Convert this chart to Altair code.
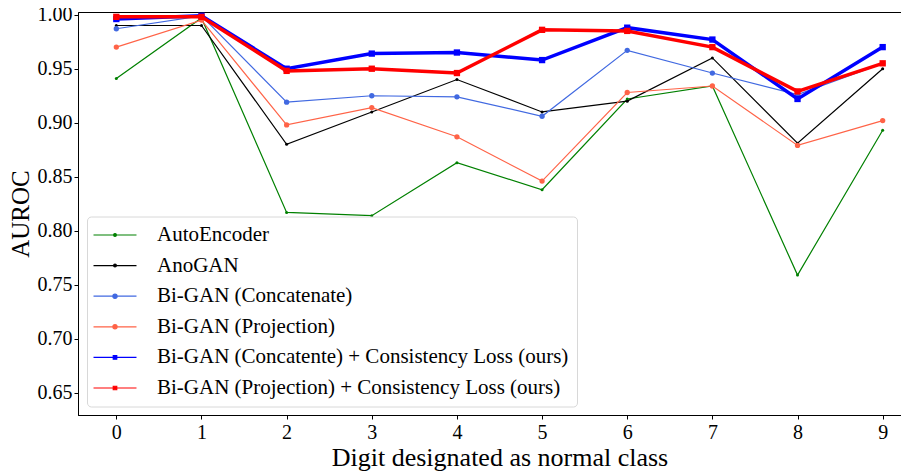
import altair as alt
import pandas as pd

digits = [0, 1, 2, 3, 4, 5, 6, 7, 8, 9]
series_names = [
    "AutoEncoder",
    "AnoGAN",
    "Bi-GAN (Concatenate)",
    "Bi-GAN (Projection)",
    "Bi-GAN (Concatente) + Consistency Loss (ours)",
    "Bi-GAN (Projection) + Consistency Loss (ours)",
]
autoencoder = [0.941, 0.997, 0.817, 0.814, 0.863, 0.838, 0.922, 0.934, 0.759, 0.893]
anogan = [0.990, 0.990, 0.880, 0.910, 0.940, 0.910, 0.920, 0.960, 0.881, 0.950]
bigan_concat = [0.987, 0.999, 0.919, 0.925, 0.924, 0.906, 0.967, 0.946, 0.926, 0.955]
bigan_proj = [0.970, 0.995, 0.898, 0.914, 0.887, 0.846, 0.928, 0.934, 0.879, 0.902]
concat_cl = [0.996, 0.999, 0.950, 0.964, 0.965, 0.958, 0.988, 0.977, 0.922, 0.970]
proj_cl = [0.998, 0.998, 0.948, 0.950, 0.946, 0.986, 0.985, 0.970, 0.929, 0.955]
y_ticks = [0.65, 0.70, 0.75, 0.80, 0.85, 0.90, 0.95, 1.00]

all_values = [autoencoder, anogan, bigan_concat, bigan_proj, concat_cl, proj_cl]
rows = [
    {"digit": d, "auroc": v, "series": s}
    for s, vals in zip(series_names, all_values)
    for d, v in zip(digits, vals)
]
df = pd.DataFrame(rows)

# styles
colors = ["green", "black", "royalblue", "tomato", "blue", "red"]
line_widths = [1.2, 1.2, 1.2, 1.2, 3.5, 3.5]
marker_shapes = ["circle", "circle", "circle", "circle", "square", "square"]
marker_sizes = [9, 9, 28, 28, 40, 40]

FONT = "Liberation Serif"

x_scale = alt.Scale(domain=[-0.45, 9.45], nice=False, zero=False)
y_scale = alt.Scale(domain=[0.6295, 1.0025], nice=False, zero=False)
color_scale = alt.Scale(domain=series_names, range=colors)


def circ(r):
    return f"M{r},0A{r},{r},0,1,1,{-r},0A{r},{r},0,1,1,{r},0Z"


def sq(s):
    return f"M{-s},{-s}L{s},{-s}L{s},{s}L{-s},{s}Z"


seg = "M-3.07,0L3.07,0"
legend_paths = [seg + circ(0.2), seg + circ(0.2), seg + circ(0.3), seg + circ(0.3),
                seg + sq(0.25), seg + sq(0.25)]

legend = alt.Legend(
    title=None,
    orient="none",
    legendX=9,
    legendY=204.5,
    labelFont=FONT,
    labelFontSize=21,
    labelColor="black",
    labelLimit=800,
    symbolSize=196,
    symbolOffset=9.5,
    labelOffset=31.5,
    padding=8,
    rowPadding=8.6,
    fillColor="rgba(255,255,255,0.85)",
    strokeColor="#d8d8d8",
    cornerRadius=4,
)

base = alt.Chart(df)
x_enc = alt.X(
    "digit:Q",
    scale=x_scale,
    axis=alt.Axis(values=digits, format="d", title="Digit designated as normal class",
                  titleFontSize=26, titlePadding=2, labelPadding=3),
)
y_enc = alt.Y(
    "auroc:Q",
    scale=y_scale,
    axis=alt.Axis(values=y_ticks, format=".2f", title="AUROC",
                  titleFontSize=25, titlePadding=4, labelPadding=2),
)

# legend-only layer (no data drawn)
legend_layer = base.transform_filter("false").mark_point(filled=False, size=196, opacity=1).encode(
    color=alt.Color("series:N", scale=color_scale, legend=legend),
    shape=alt.Shape("series:N", scale=alt.Scale(domain=series_names, range=legend_paths), legend=legend),
    strokeWidth=alt.StrokeWidth("series:N", scale=alt.Scale(domain=series_names, range=line_widths), legend=legend),
)

layers = [legend_layer]
for i, name in enumerate(series_names):
    sub = base.transform_filter(alt.datum.series == name)
    col = alt.Color("series:N", scale=color_scale, legend=None)
    layers.append(
        sub.mark_line(strokeWidth=line_widths[i], clip=True).encode(x=x_enc, y=y_enc, color=col)
    )
    layers.append(
        sub.mark_point(filled=True, opacity=1, shape=marker_shapes[i], size=marker_sizes[i], clip=True)
        .encode(x=x_enc, y=y_enc, color=col)
    )

chart = (
    alt.layer(*layers)
    .properties(
        width=843,
        height=403,
        autosize=alt.AutoSizeParams(type="none"),
        padding={"left": 70, "top": 4, "right": -20, "bottom": 60},
    )
    .configure_view(stroke="black", strokeWidth=1)
    .configure_axis(
        labelFont=FONT,
        labelFontSize=20,
        labelColor="black",
        titleFont=FONT,
        titleFontWeight="normal",
        titleColor="black",
        tickColor="black",
        tickSize=4,
        domainColor="black",
        domainWidth=1,
        grid=False,
    )
)

chart.save("out.html", embed_options={"renderer": "svg", "actions": False})
